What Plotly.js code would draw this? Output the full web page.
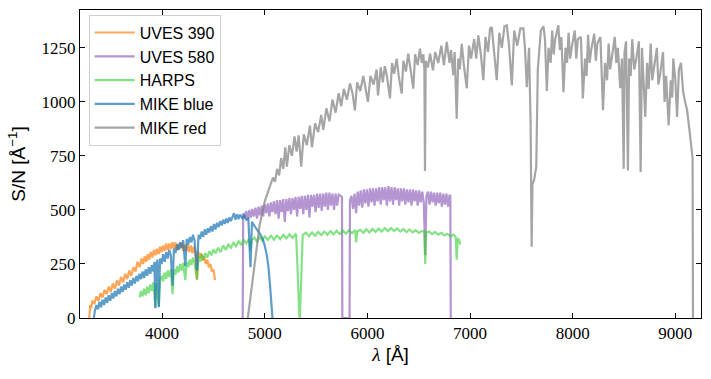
<!DOCTYPE html>
<html>
<head>
<meta charset="utf-8">
<script src="https://cdn.plot.ly/plotly-3.0.1.min.js"></script>
<style>
  body { margin: 0; background: #fff; }
  #sn-plot { width: 711px; height: 379px; }
</style>
</head>
<body>
<div id="sn-plot"></div>
<script>
// S/N per angstrom for each spectrograph
var uves390Wave = [3290, 3300, 3310, 3320, 3340, 3360, 3380, 3400, 3420, 3440, 3460, 3480, 3500, 3520, 3540, 3560, 3580, 3600, 3620, 3640, 3660, 3680, 3700, 3720, 3740, 3760, 3780, 3800, 3815, 3830, 3845, 3860, 3875, 3890, 3905, 3920, 3935, 3950, 3965, 3980, 3995, 4010, 4025, 4040, 4055, 4070, 4085, 4100, 4115, 4130, 4145, 4160, 4175, 4190, 4205, 4220, 4235, 4250, 4265, 4280, 4295, 4310, 4325, 4340, 4350, 4365, 4380, 4395, 4410, 4425, 4440, 4455, 4470, 4485, 4500, 4515];
var uves390SN = [0, 60, 45, 80, 65, 100, 80, 115, 95, 130, 110, 145, 120, 160, 135, 175, 150, 190, 165, 205, 180, 220, 195, 235, 215, 260, 235, 275, 250, 285, 260, 295, 270, 305, 280, 315, 290, 320, 295, 330, 305, 335, 310, 345, 315, 345, 320, 350, 320, 350, 315, 345, 320, 350, 310, 340, 310, 340, 305, 335, 300, 330, 290, 175, 310, 280, 300, 265, 285, 250, 270, 235, 250, 215, 225, 175];

var uves580Wave = [4785, 4790, 4805, 4820, 4835, 4850, 4865, 4880, 4895, 4910, 4925, 4940, 4955, 4970, 4985, 5000, 5015, 5030, 5045, 5060, 5075, 5090, 5105, 5120, 5135, 5150, 5165, 5180, 5195, 5210, 5225, 5240, 5255, 5270, 5285, 5300, 5315, 5330, 5345, 5360, 5375, 5390, 5405, 5420, 5435, 5450, 5465, 5480, 5495, 5510, 5525, 5540, 5555, 5570, 5585, 5600, 5615, 5630, 5645, 5660, 5675, 5690, 5705, 5720, 5740, 5752, 5756, 5826, 5830, 5845, 5860, 5875, 5890, 5905, 5920, 5935, 5950, 5965, 5980, 5995, 6010, 6025, 6040, 6055, 6070, 6085, 6100, 6115, 6130, 6145, 6160, 6175, 6190, 6205, 6220, 6235, 6250, 6265, 6280, 6295, 6310, 6325, 6340, 6355, 6370, 6385, 6400, 6415, 6430, 6445, 6460, 6475, 6490, 6505, 6520, 6535, 6550, 6563, 6575, 6590, 6605, 6620, 6635, 6650, 6665, 6680, 6695, 6710, 6725, 6740, 6755, 6770, 6785, 6800, 6808, 6812];
var uves580SN = [0, 485, 460, 495, 455, 500, 465, 505, 470, 510, 460, 515, 475, 520, 470, 525, 485, 530, 470, 535, 490, 540, 480, 545, 460, 545, 490, 550, 445, 550, 495, 555, 480, 555, 500, 560, 470, 560, 505, 565, 480, 565, 500, 570, 465, 570, 515, 570, 490, 575, 510, 575, 495, 575, 515, 580, 500, 580, 520, 575, 500, 575, 520, 570, 565, 560, 0, 0, 545, 565, 505, 575, 485, 585, 520, 590, 510, 595, 530, 595, 515, 600, 535, 600, 520, 600, 540, 605, 525, 605, 545, 605, 520, 610, 540, 605, 525, 605, 545, 600, 520, 600, 540, 600, 525, 595, 535, 595, 520, 595, 540, 590, 520, 590, 535, 585, 530, 290, 565, 585, 525, 585, 535, 580, 520, 580, 530, 580, 515, 575, 525, 575, 515, 570, 565, 0];

var harpsWave = [3780, 3795, 3810, 3825, 3840, 3855, 3870, 3885, 3900, 3915, 3934, 3945, 3968, 3980, 3995, 4010, 4025, 4040, 4055, 4070, 4085, 4102, 4115, 4130, 4145, 4160, 4175, 4190, 4205, 4226, 4240, 4255, 4270, 4285, 4300, 4315, 4340, 4355, 4370, 4385, 4400, 4420, 4440, 4460, 4480, 4500, 4520, 4545, 4570, 4595, 4620, 4645, 4670, 4695, 4720, 4745, 4770, 4795, 4820, 4845, 4861, 4875, 4900, 4925, 4950, 4975, 5000, 5030, 5060, 5090, 5120, 5150, 5180, 5210, 5240, 5270, 5300, 5306, 5338, 5342, 5370, 5400, 5430, 5460, 5490, 5520, 5550, 5580, 5610, 5640, 5670, 5700, 5730, 5760, 5790, 5820, 5850, 5880, 5890, 5900, 5930, 5960, 5990, 6020, 6050, 6080, 6110, 6140, 6170, 6200, 6230, 6260, 6290, 6320, 6350, 6380, 6410, 6440, 6470, 6500, 6530, 6555, 6563, 6572, 6600, 6630, 6660, 6690, 6720, 6750, 6780, 6810, 6840, 6860, 6870, 6880, 6895, 6905];
var harpsSN = [95, 125, 100, 135, 105, 145, 115, 155, 125, 165, 50, 160, 55, 175, 195, 170, 210, 180, 220, 190, 225, 110, 225, 200, 240, 210, 250, 220, 255, 175, 260, 235, 270, 245, 280, 255, 180, 285, 260, 295, 270, 300, 280, 310, 290, 318, 298, 325, 305, 335, 315, 340, 325, 348, 332, 355, 340, 360, 345, 365, 310, 362, 372, 352, 375, 358, 378, 362, 380, 362, 382, 365, 385, 368, 387, 370, 388, 385, 0, 0, 385, 395, 378, 396, 380, 398, 383, 400, 385, 402, 387, 404, 388, 405, 390, 406, 392, 407, 350, 400, 408, 394, 410, 396, 412, 398, 414, 400, 416, 402, 416, 402, 414, 400, 412, 398, 410, 396, 406, 394, 402, 400, 250, 396, 400, 388, 398, 386, 394, 382, 390, 378, 386, 375, 270, 370, 360, 340];

var mikeBlueWave = [3335, 3345, 3360, 3375, 3390, 3405, 3420, 3435, 3450, 3465, 3480, 3495, 3510, 3525, 3540, 3555, 3570, 3585, 3600, 3615, 3630, 3645, 3660, 3675, 3690, 3705, 3720, 3735, 3750, 3765, 3780, 3795, 3810, 3825, 3840, 3855, 3870, 3885, 3900, 3915, 3925, 3934, 3945, 3955, 3968, 3980, 3995, 4010, 4025, 4040, 4055, 4070, 4085, 4102, 4115, 4130, 4145, 4160, 4175, 4190, 4205, 4226, 4240, 4255, 4270, 4285, 4300, 4315, 4340, 4355, 4370, 4385, 4400, 4415, 4430, 4445, 4460, 4475, 4490, 4505, 4520, 4535, 4550, 4565, 4580, 4595, 4610, 4625, 4640, 4655, 4670, 4685, 4700, 4715, 4730, 4745, 4760, 4780, 4800, 4820, 4840, 4861, 4875, 4900, 4920, 4940, 4960, 4980, 5000, 5020, 5035, 5050, 5065, 5075];
var mikeBlueSN = [0, 35, 60, 40, 75, 50, 85, 60, 95, 70, 105, 80, 115, 90, 125, 100, 135, 110, 145, 120, 155, 130, 165, 140, 175, 150, 185, 160, 195, 170, 205, 180, 215, 185, 225, 195, 235, 205, 245, 215, 260, 45, 250, 270, 50, 275, 250, 295, 260, 305, 275, 315, 290, 150, 320, 300, 340, 315, 350, 325, 360, 240, 365, 340, 375, 350, 385, 360, 220, 385, 365, 400, 375, 410, 385, 415, 395, 425, 400, 435, 410, 440, 420, 448, 428, 455, 435, 460, 440, 466, 448, 472, 485, 455, 480, 458, 478, 462, 475, 455, 460, 235, 445, 425, 412, 398, 385, 365, 335, 290, 240, 160, 70, 0];

var mikeRedWave = [4835, 4860, 4900, 4950, 5000, 5040, 5080, 5100, 5120, 5140, 5160, 5180, 5200, 5215, 5240, 5265, 5290, 5310, 5330, 5355, 5380, 5410, 5440, 5460, 5490, 5520, 5550, 5570, 5600, 5630, 5660, 5690, 5720, 5745, 5770, 5800, 5830, 5855, 5878, 5900, 5930, 5960, 5985, 6005, 6030, 6060, 6090, 6103, 6130, 6150, 6170, 6190, 6220, 6240, 6260, 6285, 6305, 6334, 6350, 6375, 6398, 6420, 6447, 6465, 6490, 6512, 6530, 6545, 6555, 6561, 6568, 6590, 6610, 6639, 6660, 6690, 6720, 6745, 6773, 6800, 6815, 6837, 6850, 6870, 6885, 6900, 6919, 6940, 6968, 6990, 7010, 7040, 7060, 7081, 7105, 7130, 7150, 7175, 7195, 7212, 7235, 7260, 7285, 7310, 7335, 7358, 7380, 7407, 7430, 7460, 7490, 7520, 7535, 7553, 7575, 7590, 7600, 7608, 7625, 7645, 7660, 7690, 7715, 7730, 7748, 7765, 7785, 7800, 7815, 7830, 7860, 7875, 7890, 7910, 7930, 7945, 7960, 7975, 7990, 8020, 8035, 8050, 8080, 8099, 8120, 8135, 8150, 8165, 8180, 8210, 8225, 8240, 8270, 8295, 8315, 8335, 8350, 8365, 8380, 8410, 8425, 8440, 8463, 8480, 8497, 8505, 8520, 8538, 8550, 8565, 8580, 8600, 8620, 8645, 8662, 8675, 8690, 8707, 8725, 8740, 8760, 8775, 8790, 8820, 8835, 8850, 8880, 8895, 8910, 8935, 8955, 8970, 8980, 9000, 9017, 9035, 9055, 9075, 9095, 9115, 9135, 9150, 9163, 9168, 9172];
var mikeRedSN = [0, 90, 250, 430, 540, 600, 650, 630, 690, 660, 740, 690, 790, 700, 800, 750, 840, 770, 845, 700, 850, 800, 890, 790, 900, 860, 940, 870, 970, 910, 1010, 950, 1040, 980, 1060, 1010, 1085, 1040, 960, 1090, 1050, 1120, 1060, 1000, 1120, 1080, 1150, 1030, 1160, 1090, 1165, 1120, 1016, 1180, 1130, 1200, 1120, 1038, 1190, 1140, 1223, 1150, 1061, 1220, 1170, 1246, 1180, 1220, 1150, 680, 1190, 1160, 1223, 1146, 1230, 1180, 1260, 1170, 1277, 1180, 1240, 1123, 1230, 922, 1200, 1150, 1269, 1170, 1063, 1260, 1200, 1290, 1200, 1308, 1220, 1100, 1300, 1230, 1340, 1346, 1240, 1100, 1320, 1250, 1350, 1354, 1260, 1076, 1330, 1260, 1340, 1340, 1250, 1068, 1250, 900, 330, 620, 640, 700, 1150, 1330, 1350, 1290, 1050, 1250, 1180, 1330, 1220, 1290, 1355, 1240, 1300, 1045, 1250, 1180, 1320, 1200, 1250, 1330, 1200, 1290, 1300, 1016, 1200, 1120, 1310, 1180, 1240, 1315, 1190, 1270, 1300, 961, 1180, 1100, 1270, 1150, 1200, 1300, 1180, 1250, 1063, 1200, 690, 1230, 1280, 683, 1200, 1120, 1290, 1150, 1200, 1280, 675, 1250, 1100, 930, 1180, 1060, 1270, 1100, 1150, 1250, 1080, 1120, 1230, 1000, 1120, 891, 1100, 1020, 1200, 1100, 930, 1150, 1180, 1050, 1000, 960, 880, 820, 761, 740, 0];

var seriesNames = ["UVES 390", "UVES 580", "HARPS", "MIKE blue", "MIKE red"];
var seriesColors = ["rgba(255,127,14,0.7)", "rgba(148,103,189,0.7)", "rgba(50,205,50,0.6)", "rgba(31,119,180,0.72)", "rgba(127,127,127,0.7)"];
var seriesWaves = [uves390Wave, uves580Wave, harpsWave, mikeBlueWave, mikeRedWave];
var seriesSN = [uves390SN, uves580SN, harpsSN, mikeBlueSN, mikeRedSN];

var yTicks = [0, 250, 500, 750, 1000, 1250];
var xTicks = [4000, 5000, 6000, 7000, 8000, 9000];

var data = seriesNames.map(function (name, i) {
    return {
        x: seriesWaves[i],
        y: seriesSN[i],
        name: name,
        type: "scatter",
        mode: "lines",
        line: {color: seriesColors[i], width: 2.2}
    };
});

var tickFont = {family: "Liberation Serif, Times New Roman, serif", size: 17, color: "#000"};

var layout = {
    width: 711,
    height: 379,
    margin: {l: 80, r: 10, t: 10, b: 61},
    paper_bgcolor: "#fff",
    plot_bgcolor: "#fff",
    showlegend: true,
    legend: {
        x: 0.014, y: 0.985, xanchor: "left", yanchor: "top",
        bgcolor: "rgba(255,255,255,0.8)",
        bordercolor: "#d0d0d0", borderwidth: 1,
        font: {family: "Liberation Sans, Arial, sans-serif", size: 16, color: "#000"},
        itemwidth: 40
    },
    xaxis: {
        range: [3200, 9250],
        tickvals: xTicks,
        ticks: "inside", ticklen: 5, tickcolor: "#000",
        showline: true, linecolor: "#000", linewidth: 1, mirror: "ticks",
        showgrid: false, zeroline: false,
        tickfont: tickFont,
        title: {
            text: "<span style=\"font-family:Liberation Serif\"><i>λ</i></span> [Å]",
            font: {family: "Liberation Sans, Arial, sans-serif", size: 19, color: "#000"},
            standoff: 5
        }
    },
    yaxis: {
        range: [0, 1425],
        tickvals: yTicks,
        ticks: "inside", ticklen: 5, tickcolor: "#000",
        showline: true, linecolor: "#000", linewidth: 1, mirror: "ticks",
        showgrid: false, zeroline: false,
        tickfont: tickFont,
        title: {
            text: "S/N [Å<sup>−1</sup>]",
            font: {family: "Liberation Sans, Arial, sans-serif", size: 19, color: "#000"},
            standoff: 10
        }
    }
};

Plotly.newPlot("sn-plot", data, layout, {displayModeBar: false, staticPlot: true});
</script>
</body>
</html>
